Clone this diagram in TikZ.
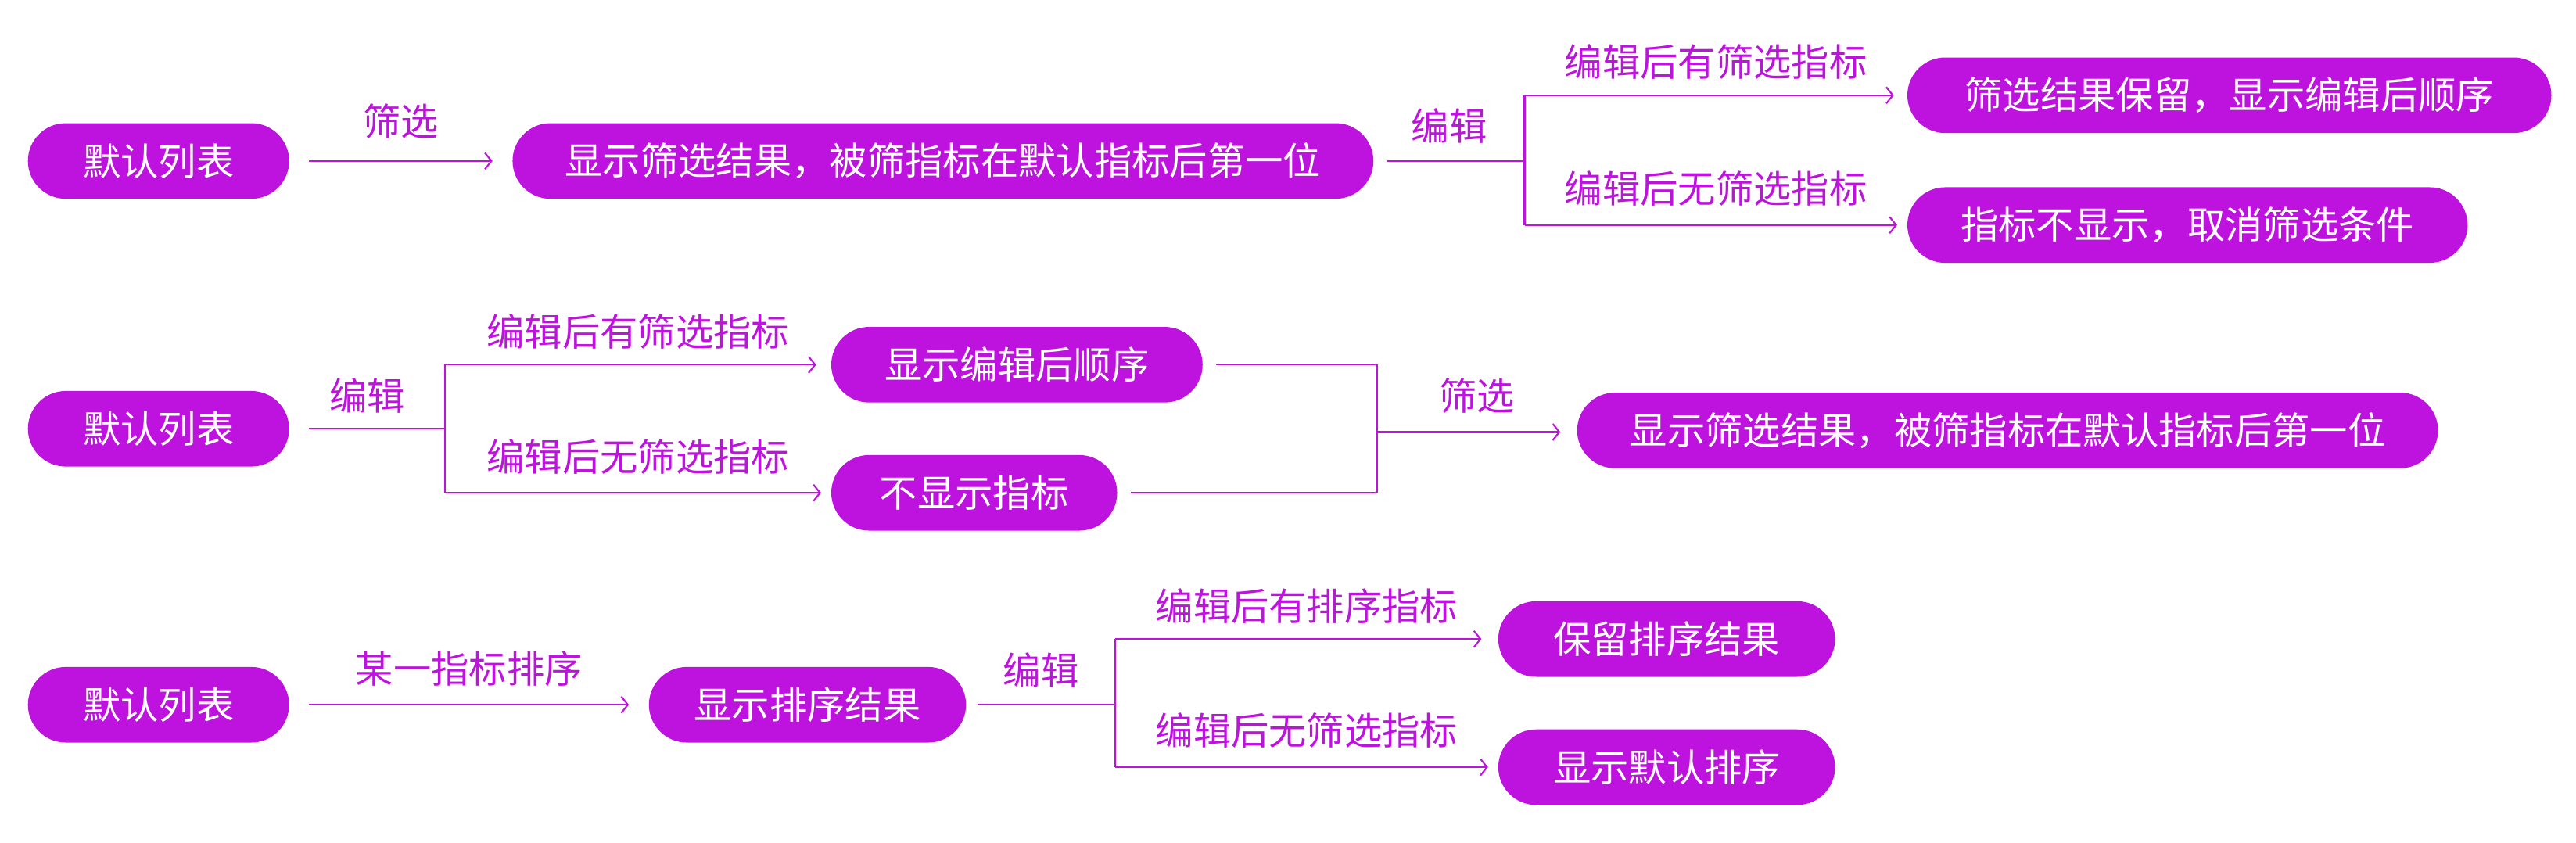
\documentclass[tikz,border=0pt]{standalone}
\usepackage{fontspec}
\setmainfont{Noto Sans CJK SC}
\usetikzlibrary{arrows.meta}
\definecolor{pur}{RGB}{190,19,222}
\tikzset{
  x=1pt,y=1pt,
  box/.style={fill=pur, text=white, rounded corners=23pt, minimum height=46pt, inner sep=0pt, font=\fontsize{23}{23}\selectfont},
  lab/.style={text=pur, inner sep=0pt, font=\fontsize{23}{23}\selectfont},
  con/.style={draw=pur, line width=1pt},
  arr/.style={con, -{Straight Barb[length=4pt,width=10pt,line width=1pt]}}
}
\begin{document}
\begin{tikzpicture}
\useasboundingbox (0,0) rectangle (1568,513);
% row 1
\node[box, minimum width=159pt] (A1) at (96.5,415) {默认列表};
\node[box, minimum width=524pt] (B1) at (574,415) {显示筛选结果，被筛指标在默认指标后第一位};
\node[box, minimum width=392pt] (C1) at (1357,455) {筛选结果保留，显示编辑后顺序};
\node[box, minimum width=341pt] (D1) at (1331.5,376) {指标不显示，取消筛选条件};
\coordinate (F1) at (928,415);
\draw[arr, shorten <=12pt, shorten >=12pt] (A1.east) -- node[lab, midway, above=13pt] (l1) {筛选} (B1.west);
\draw[con, shorten <=8pt] (B1.east) -- node[lab, midway, above=10pt] (l2) {编辑} (F1);
\draw[con] (F1 |- C1.west) -- (F1 |- D1.west);
\draw[arr, shorten >=8pt] (F1 |- C1.west) -- node[lab, midway, above=9pt] (l3) {编辑后有筛选指标} (C1.west);
\draw[arr, shorten >=6pt] (F1 |- D1.west) -- node[lab, midway, above=11pt] (l4) {编辑后无筛选指标} (D1.west);
% row 2
\node[box, minimum width=159pt] (A2) at (96.5,252) {默认列表};
\node[box, minimum width=226pt] (B2) at (619,291) {显示编辑后顺序};
\node[box, minimum width=174pt] (E2) at (593,213) {不显示指标};
\node[box, minimum width=524pt] (C2) at (1222,251) {显示筛选结果，被筛指标在默认指标后第一位};
\coordinate (F2) at (271,252);
\coordinate (G2) at (838,250);
\draw[con, shorten <=12pt] (A2.east) -- node[lab, midway, above=9pt] (l5) {编辑} (F2);
\draw[con] (F2 |- B2.west) -- (F2 |- E2.west);
\draw[arr, shorten >=9pt] (F2 |- B2.west) -- node[lab, midway, above=9pt] (l6) {编辑后有筛选指标} (B2.west);
\draw[arr, shorten >=6pt] (F2 |- E2.west) -- node[lab, midway, above=11pt] (l7) {编辑后无筛选指标} (E2.west);
\draw[con, shorten <=8pt] (B2.east) -- (G2 |- B2.east);
\draw[con, shorten <=8pt] (E2.east) -- (G2 |- E2.east);
\draw[con] (G2 |- B2.east) -- (G2 |- E2.east);
\draw[arr, shorten >=10pt] (G2) -- node[lab, midway, above=11pt] (l8) {筛选} (G2 -| C2.west);
% row 3
\node[box, minimum width=159pt] (A3) at (96.5,84) {默认列表};
\node[box, minimum width=193pt] (B3) at (491.5,84) {显示排序结果};
\node[box, minimum width=205pt] (C3) at (1014.5,124) {保留排序结果};
\node[box, minimum width=205pt] (D3) at (1014.5,46) {显示默认排序};
\coordinate (F3) at (679,84);
\draw[arr, shorten <=12pt, shorten >=12pt] (A3.east) -- node[lab, midway, above=11pt] (l9) {某一指标排序} (B3.west);
\draw[con, shorten <=7pt] (B3.east) -- node[lab, midway, above=10pt] (l10) {编辑} (F3);
\draw[con] (F3 |- C3.west) -- (F3 |- D3.west);
\draw[arr, shorten >=10pt] (F3 |- C3.west) -- node[lab, midway, above=9pt] (l11) {编辑后有排序指标} (C3.west);
\draw[arr, shorten >=6pt] (F3 |- D3.west) -- node[lab, midway, above=11pt] (l12) {编辑后无筛选指标} (D3.west);
\end{tikzpicture}
\end{document}
